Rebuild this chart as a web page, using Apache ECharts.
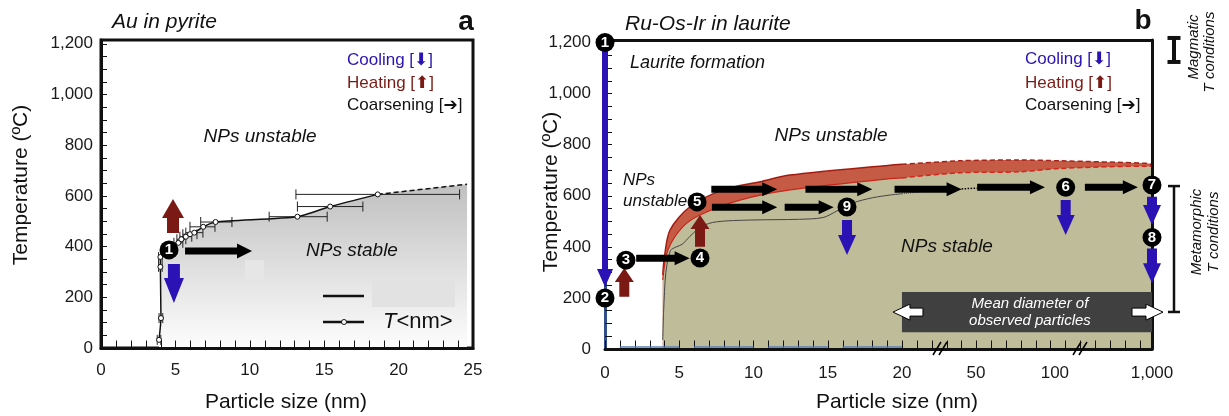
<!DOCTYPE html>
<html>
<head>
<meta charset="utf-8" />
<title>Nanoparticle stability</title>
<script src="https://cdn.jsdelivr.net/npm/echarts@6/dist/echarts.min.js"></script>
<style>
  body { margin: 0; background: #fff; }
  #container { width: 1229px; height: 416px; }
</style>
</head>
<body>
<div id="container"></div>
<script>
var FONT = "'Liberation Sans', 'DejaVu Sans', Arial, sans-serif";
var BLUE = '#2b12b4', DARKRED = '#7b1a14', INK = '#111';

// ---- panel a : Au in pyrite  (size nm, T degC) ----
var auCurve = [[3.9, 32], [4.03, 118], [3.99, 320], [3.99, 359], [5.2, 415], [5.4, 429], [5.7, 439],
  [5.98, 449], [6.27, 455], [6.87, 478], [7.7, 497], [13.2, 518], [15.4, 558], [18.6, 606]];
var auExtrapolated = [[18.6, 606], [24.6, 646]];
// x, T, xmin, xmax
var auErrors = [[3.9, 32, 3.78, 4.02], [4.03, 118, 3.9, 4.15], [3.99, 320, 3.87, 4.11], [3.99, 359, 3.87, 4.11],
  [5.2, 415, 4.9, 5.5], [5.4, 429, 5.1, 5.7], [5.7, 439, 5.3, 6.1], [5.98, 449, 5.5, 6.45],
  [6.27, 455, 5.7, 6.85], [6.87, 478, 5.98, 7.66], [7.7, 497, 6.7, 8.8], [13.2, 518, 11.3, 15.2],
  [15.4, 558, 13.2, 17.6], [18.6, 606, 13.1, 24.1]];
var auSteps = [[4.57, 387, '1']];
var auCooling = [[4.9, 331, 4.9, 178]];
var auHeating = [[4.84, 454, 4.84, 588]];
var auCoarsening = [[5.65, 383, 10.15, 383]];

// ---- panel b : Ru-Os-Ir in laurite ----
var upperSolid = [[3.89, 290], [4.0, 360], [4.38, 466], [5.72, 557], [7.95, 623], [10.44, 655],
  [12.46, 681], [19.19, 720], [20, 723]];
var upperDashed = [[20, 723], [43.5, 737], [78, 740], [147, 737], [953, 727], [1000, 722]];
var lowerSolid = [[3.89, 270], [4.24, 388], [5.25, 479], [6.4, 525], [9.09, 583], [12.46, 623],
  [19.19, 667], [20, 670]];
var lowerDashed = [[20, 670], [43.5, 690], [78, 694], [147, 707], [953, 716], [1000, 716]];
var thinLine = [[3.89, 35], [3.95, 150], [4.1, 300], [4.4, 385], [4.8, 400], [5.2, 410], [5.7, 440],
  [6.5, 480], [7.5, 498], [9.8, 505], [13.1, 508], [14.7, 515], [15.6, 540], [16.7, 572], [18, 592],
  [19.2, 603], [20, 608]];
var thinDotted = [[20, 608], [42, 630]];
var baseSegments = [[1, 8], [5, 8], [5.5, '-'], [6, 8], [10, 8], [10.5, '-'], [11, 8], [15, 8],
  [15.5, '-'], [16, 8], [20, 8]];
var steps = [[0, 1200, '1'], [0, 200, '2'], [1.41, 348, '3'], [6.4, 356, '4'], [6.2, 576, '5'],
  [200, 633, '6'], [1000, 642, '7'], [1000, 437, '8'], [16.3, 556, '9']];
var coolingLong = [[0, 1200, 0, 243]];
var cooling = [[16.3, 505, 16.3, 368], [200, 583, 200, 446], [1000, 596, 1000, 486], [1000, 394, 1000, 257]];
var heating = [[1.3, 205, 1.3, 317], [6.4, 400, 6.4, 525]];
var coarsening = [[2.1, 355, 5.7, 355], [7.16, 626, 11.6, 626], [13.5, 626, 18, 626], [19.5, 626, 44.2, 626],
  [50.8, 633, 93.7, 633], [378, 633, 869, 633], [7.2, 555, 11.6, 555], [12.1, 555, 15.4, 555]];
var coarseningDots = [[44.2, 627], [50.8, 630]];
var observedRange = [[20, 1000, 66, 223]];   // nm from, nm to, T low, T high
var magmaticT = [1124, 1218];
var metamorphicT = [145, 638];

var tempTicks = [], tempLabels = [0, 200, 400, 600, 800, 1000, 1200];
for (var t = 0; t <= 1200; t += 50) tempTicks.push(t);
var sizeTicksA = [];
for (var s = 0; s <= 25; s++) sizeTicksA.push(s);
var sizeLabelsB = [0, 5, 10, 15, 20, 50, 100, 1000];

// broken size axis of panel b: nm -> axis position
var sizeAxisAnchors = [[0, 0], [20, 20], [50, 24.98], [100, 30.3], [1000, 36.84]];
var breakAtU = [22.56, 31.99];
function toU(nm) {
  for (var i = 1; i < sizeAxisAnchors.length; i++) {
    var a = sizeAxisAnchors[i - 1], b = sizeAxisAnchors[i];
    if (nm <= b[0] || i === sizeAxisAnchors.length - 1) {
      return a[1] + (nm - a[0]) * (b[1] - a[1]) / (b[0] - a[0]);
    }
  }
}
function onB(list) {
  return list.map(function (p) { return [toU(p[0])].concat(p.slice(1)); });
}
function onB4(list) {
  return list.map(function (p) { return [toU(p[0]), p[1], toU(p[2]), p[3]]; });
}
var uMax = toU(1000);
var sizeTicksB = [];
for (var k = 0; k <= 36; k++) sizeTicksB.push(k);

function arrowPoints(a, b, shaft, headW, headLen) {
  var dx = b[0] - a[0], dy = b[1] - a[1], len = Math.sqrt(dx * dx + dy * dy);
  var ux = dx / len, uy = dy / len, nx = -uy, ny = ux;
  var hx = b[0] - ux * headLen, hy = b[1] - uy * headLen;
  var w = shaft / 2, h = headW / 2;
  return [[a[0] + nx * w, a[1] + ny * w], [hx + nx * w, hy + ny * w], [hx + nx * h, hy + ny * h],
    [b[0], b[1]], [hx - nx * h, hy - ny * h], [hx - nx * w, hy - ny * w], [a[0] - nx * w, a[1] - ny * w]];
}
function arrowSeries(axis, data, fill, shaft, headW, headLen) {
  return {
    type: 'custom', xAxisIndex: axis, yAxisIndex: axis, clip: false, silent: true, z: 12,
    data: data,
    renderItem: function (params, api) {
      var a = api.coord([api.value(0), api.value(1)]);
      var b = api.coord([api.value(2), api.value(3)]);
      return { type: 'polygon', shape: { points: arrowPoints(a, b, shaft, headW, headLen) }, style: { fill: fill } };
    }
  };
}
// inward x ticks drawn above the filled areas
function tickSeries(axis, values, len) {
  return {
    type: 'custom', xAxisIndex: axis, yAxisIndex: axis, clip: false, silent: true, z: 13,
    data: values.map(function (v) { return [v, 0]; }),
    renderItem: function (params, api) {
      var p = api.coord([api.value(0), 0]);
      var x = Math.round(p[0]) + 0.5;
      return { type: 'line', shape: { x1: x, y1: p[1], x2: x, y2: p[1] - len }, style: { stroke: INK, lineWidth: 1 } };
    }
  };
}
function stepSeries(axis, data) {
  return {
    type: 'scatter', xAxisIndex: axis, yAxisIndex: axis, clip: false, silent: true, z: 14,
    data: data, symbolSize: 19, itemStyle: { color: '#000', opacity: 1 },
    label: { show: true, position: 'inside', formatter: function (p) { return p.value[2]; },
      color: '#fff', fontSize: 15, fontWeight: 'bold', fontFamily: FONT }
  };
}
function bracketSeries(range, stem, capW) {
  return {
    type: 'custom', xAxisIndex: 1, yAxisIndex: 1, clip: false, silent: true, z: 12,
    data: [[uMax, range[0], range[1]]],
    renderItem: function (params, api) {
      var lo = api.coord([api.value(0), api.value(1)]), hi = api.coord([api.value(0), api.value(2)]);
      var x = lo[0] + 22, st = { stroke: INK, lineWidth: stem };
      return { type: 'group', children: [
        { type: 'line', shape: { x1: x, y1: lo[1], x2: x, y2: hi[1] }, style: st },
        { type: 'line', shape: { x1: x - capW / 2, y1: lo[1], x2: x + capW / 2, y2: lo[1] }, style: st },
        { type: 'line', shape: { x1: x - capW / 2, y1: hi[1], x2: x + capW / 2, y2: hi[1] }, style: st }
      ] };
    }
  };
}
function curve(axis, data, color, width, dash, smooth) {
  return {
    type: 'line', xAxisIndex: axis, yAxisIndex: axis, data: data, showSymbol: false, silent: true,
    smooth: smooth || 0, z: 3, lineStyle: { color: color, width: width, type: dash || 'solid' }
  };
}
function area(axis, data, fill, smooth) {
  return {
    type: 'line', xAxisIndex: axis, yAxisIndex: axis, data: data, showSymbol: false, silent: true,
    smooth: smooth || 0, z: 1, lineStyle: { width: 0 }, areaStyle: { color: fill, opacity: 1 }
  };
}
function txt(x, y, text, font, fill, align, rot) {
  return { type: 'text', x: x, y: y, z: 100, rotation: rot || 0, silent: true,
    style: { text: text, font: font + ' ' + FONT, fill: fill || INK, textAlign: align || 'left', textVerticalAlign: 'middle' } };
}

var axisBase = {
  type: 'value', z: 10, splitLine: { show: false },
  axisLine: { onZero: false, lineStyle: { color: INK, width: 3 } },
  axisTick: { inside: true, length: 6, lineStyle: { color: INK, width: 1 } },
  axisLabel: { color: '#1a1a1a', fontSize: 17, fontFamily: FONT }
};
function ax(extra) { return echarts.util.merge(echarts.util.clone(axisBase), extra, true); }
var decor = { type: 'value', min: 0, max: 1, z: 10, splitLine: { show: false }, axisTick: { show: false }, axisLabel: { show: false },
  axisLine: { show: true, onZero: false, lineStyle: { color: INK, width: 3 } } };
var tempFmt = function (v) { return v.toLocaleString('en-US'); };

var chart = echarts.init(document.getElementById('container'));
var option = {
  animation: false,
  textStyle: { fontFamily: FONT },
  grid: [
    { left: 101, top: 40, width: 372, height: 308, show: true, borderColor: INK, borderWidth: 3 },
    { left: 605, top: 40, width: 547, height: 309, show: false }
  ],
  xAxis: [
    ax({ gridIndex: 0, min: 0, max: 25, axisTick: { show: false },
      axisLabel: { customValues: [0, 5, 10, 15, 20, 25], margin: 14 } }),
    ax({ gridIndex: 1, min: 0, max: uMax, axisTick: { show: false },
      axisLabel: { customValues: sizeLabelsB.map(toU), margin: 16,
        formatter: function (v) {
          for (var i = 0; i < sizeLabelsB.length; i++) {
            if (Math.abs(toU(sizeLabelsB[i]) - v) < 1e-6) return sizeLabelsB[i].toLocaleString('en-US');
          }
          return '';
        } } }),
    echarts.util.merge({ gridIndex: 1, position: 'top' }, decor)
  ],
  yAxis: [
    ax({ gridIndex: 0, min: 0, max: 1215, axisTick: { customValues: tempTicks },
      axisLabel: { customValues: tempLabels, margin: 8, formatter: tempFmt } }),
    ax({ gridIndex: 1, min: 0, max: 1210, axisLine: { lineStyle: { color: '#34508a', width: 3 } },
      axisTick: { customValues: tempTicks, length: 7 },
      axisLabel: { customValues: tempLabels, margin: 14, formatter: tempFmt } }),
    echarts.util.merge({ gridIndex: 1, position: 'right' }, decor)
  ],
  graphic: { elements: [
    // panel a
    txt(112, 22, 'Au in pyrite', 'italic 21px'),
    txt(466, 22, 'a', 'bold 28px', INK, 'center'),
    txt(347, 60, 'Cooling [\u2B07]', '17px', BLUE),
    txt(347, 83, 'Heating [\u2B06]', '17px', DARKRED),
    txt(347, 105, 'Coarsening [\u2794]', '17px', INK),
    txt(260, 137, 'NPs unstable', 'italic 19px', INK, 'center'),
    txt(352, 251, 'NPs stable', 'italic 19px', INK, 'center'),
    txt(21, 185, 'Temperature (\u00BAC)', '21px', INK, 'center', Math.PI / 2),
    txt(286, 402, 'Particle size (nm)', '21px', INK, 'center'),
    { type: 'rect', z: 90, silent: true, shape: { x: 245, y: 260, width: 19, height: 20 }, style: { fill: '#e6e6e6' } },
    { type: 'rect', z: 90, silent: true, shape: { x: 372, y: 280, width: 83, height: 27 }, style: { fill: '#e2e2e2' } },
    { type: 'line', z: 100, silent: true, shape: { x1: 323, y1: 296, x2: 364, y2: 296 }, style: { stroke: INK, lineWidth: 2.5 } },
    { type: 'line', z: 100, silent: true, shape: { x1: 323, y1: 322, x2: 364, y2: 322 }, style: { stroke: INK, lineWidth: 2.5 } },
    { type: 'circle', z: 101, silent: true, shape: { cx: 344, cy: 322, r: 2.5 }, style: { fill: '#fff', stroke: INK, lineWidth: 1 } },
    { type: 'text', x: 383, y: 322, z: 100, silent: true,
      style: { text: '{t|T}{n|<nm>}', textVerticalAlign: 'middle', fill: INK,
        rich: { t: { font: 'italic 22px ' + FONT }, n: { font: '22px ' + FONT } } } },
    // panel b
    txt(625, 24, 'Ru-Os-Ir in laurite', 'italic 21px'),
    txt(1143, 21, 'b', 'bold 28px', INK, 'center'),
    txt(630, 63, 'Laurite formation', 'italic 18px'),
    txt(1025, 59, 'Cooling [\u2B07]', '17px', BLUE),
    txt(1025, 83, 'Heating [\u2B06]', '17px', DARKRED),
    txt(1025, 105, 'Coarsening [\u2794]', '17px', INK),
    txt(831, 136, 'NPs unstable', 'italic 19px', INK, 'center'),
    txt(623, 180, 'NPs', 'italic 17px'),
    txt(623, 201, 'unstable', 'italic 17px'),
    txt(947, 247, 'NPs stable', 'italic 19px', INK, 'center'),
    txt(551, 192, 'Temperature (\u00BAC)', '21px', INK, 'center', Math.PI / 2),
    txt(897, 402, 'Particle size (nm)', '21px', INK, 'center'),
    txt(1194, 47, 'Magmatic', 'italic 15px', INK, 'center', Math.PI / 2),
    txt(1210, 52, 'T conditions', 'italic 15px', INK, 'center', Math.PI / 2),
    txt(1197, 232, 'Metamorphic', 'italic 15px', INK, 'center', Math.PI / 2),
    txt(1214, 232, 'T conditions', 'italic 15px', INK, 'center', Math.PI / 2)
  ] },
  series: [
    // ----- panel a -----
    area(0, auCurve.concat(auExtrapolated.slice(1)), new echarts.graphic.LinearGradient(0, 0, 0, 1, [
      { offset: 0, color: '#c0c0c0' }, { offset: 1, color: '#fdfdfd' }]), 0.2),
    {
      type: 'custom', xAxisIndex: 0, yAxisIndex: 0, silent: true, z: 3, data: auErrors,
      renderItem: function (params, api) {
        var lo = api.coord([api.value(2), api.value(1)]), hi = api.coord([api.value(3), api.value(1)]);
        var st = { stroke: '#222', lineWidth: 1 }, c = 5;
        return { type: 'group', children: [
          { type: 'line', shape: { x1: lo[0], y1: lo[1], x2: hi[0], y2: hi[1] }, style: st },
          { type: 'line', shape: { x1: lo[0], y1: lo[1] - c, x2: lo[0], y2: lo[1] + c }, style: st },
          { type: 'line', shape: { x1: hi[0], y1: hi[1] - c, x2: hi[0], y2: hi[1] + c }, style: st }
        ] };
      }
    },
    {
      type: 'line', xAxisIndex: 0, yAxisIndex: 0, data: auCurve, smooth: 0.2, silent: true, z: 4,
      symbol: 'circle', symbolSize: 5, showAllSymbol: true,
      itemStyle: { color: '#fff', borderColor: INK, borderWidth: 1 },
      lineStyle: { color: INK, width: 1.5 }
    },
    curve(0, auExtrapolated, INK, 1.5, [5, 3]),
    tickSeries(0, sizeTicksA, 7.5),
    arrowSeries(0, auHeating, DARKRED, 12, 22, 19),
    arrowSeries(0, auCooling, BLUE, 12, 20, 25),
    arrowSeries(0, auCoarsening, '#000', 7, 15, 15),
    stepSeries(0, auSteps),

    // ----- panel b -----
    area(1, onB(upperSolid.concat(upperDashed.slice(1))), '#c65b45', 0.3),
    area(1, onB(lowerSolid.concat(lowerDashed.slice(1))), '#bfbc9a', 0.3),
    curve(1, onB(upperSolid), '#a31c12', 1.5, 'solid', 0.3),
    curve(1, onB(upperDashed), '#a52218', 1.5, [5, 3], 0.3),
    curve(1, onB(lowerSolid), '#c9261c', 1.2, 'solid', 0.3),
    curve(1, onB(lowerDashed), '#d3261c', 1.5, [5, 3], 0.3),
    curve(1, onB(thinLine), '#444', 1, 'solid', 0.3),
    curve(1, onB(thinDotted), '#444', 1, 'dotted'),
    curve(1, onB(coarseningDots), '#000', 1.5, 'dotted'),
    tickSeries(1, sizeTicksB, 8.5),
    {
      type: 'line', xAxisIndex: 1, yAxisIndex: 1, data: baseSegments, showSymbol: false, silent: true,
      connectNulls: false, z: 13, lineStyle: { color: '#5b7fb5', width: 1.5 }
    },
    {
      type: 'custom', xAxisIndex: 1, yAxisIndex: 1, silent: true, clip: false, z: 11,
      data: observedRange.map(function (r) { return [toU(r[0]), toU(r[1]), r[2], r[3]]; }),
      renderItem: function (params, api) {
        var p1 = api.coord([api.value(0), api.value(3)]), p2 = api.coord([api.value(1), api.value(2)]);
        var cy = (p1[1] + p2[1]) / 2, cx = (p1[0] + p2[0]) / 2;
        var wa = { fill: '#fff', stroke: '#000', lineWidth: 1 };
        return { type: 'group', children: [
          { type: 'rect', shape: { x: p1[0], y: p1[1], width: p2[0] - p1[0], height: p2[1] - p1[1] }, style: { fill: '#404040' } },
          { type: 'polygon', shape: { points: arrowPoints([p1[0] + 21, cy], [p1[0] - 9, cy], 8, 16, 17) }, style: wa },
          { type: 'polygon', shape: { points: arrowPoints([p2[0] - 20, cy], [p2[0] + 11, cy], 8, 16, 17) }, style: wa },
          { type: 'text', x: cx + 3, y: cy, style: { text: 'Mean diameter of\nobserved particles', fill: '#fff',
            font: 'italic 15px ' + FONT, lineHeight: 17, textAlign: 'center', textVerticalAlign: 'middle' } }
        ] };
      }
    },
    {
      type: 'custom', xAxisIndex: 1, yAxisIndex: 1, silent: true, clip: false, z: 14,
      data: breakAtU.map(function (u) { return [u, 0]; }),
      renderItem: function (params, api) {
        var p = api.coord([api.value(0), 0]), st = { stroke: '#000', lineWidth: 1.5 };
        return { type: 'group', children: [
          { type: 'line', shape: { x1: p[0] - 7, y1: p[1] + 6, x2: p[0] + 1, y2: p[1] - 7 }, style: st },
          { type: 'line', shape: { x1: p[0] - 1, y1: p[1] + 6, x2: p[0] + 7, y2: p[1] - 7 }, style: st }
        ] };
      }
    },
    arrowSeries(1, onB4(coolingLong), BLUE, 6, 16, 18),
    arrowSeries(1, onB4(cooling), BLUE, 10, 18, 20),
    arrowSeries(1, onB4(heating), DARKRED, 10, 19, 14),
    arrowSeries(1, onB4(coarsening), '#000', 7, 14, 15),
    bracketSeries(magmaticT, 4, 13),
    bracketSeries(metamorphicT, 2.5, 12),
    stepSeries(1, onB(steps))
  ]
};
chart.setOption(option);
</script>
</body>
</html>
